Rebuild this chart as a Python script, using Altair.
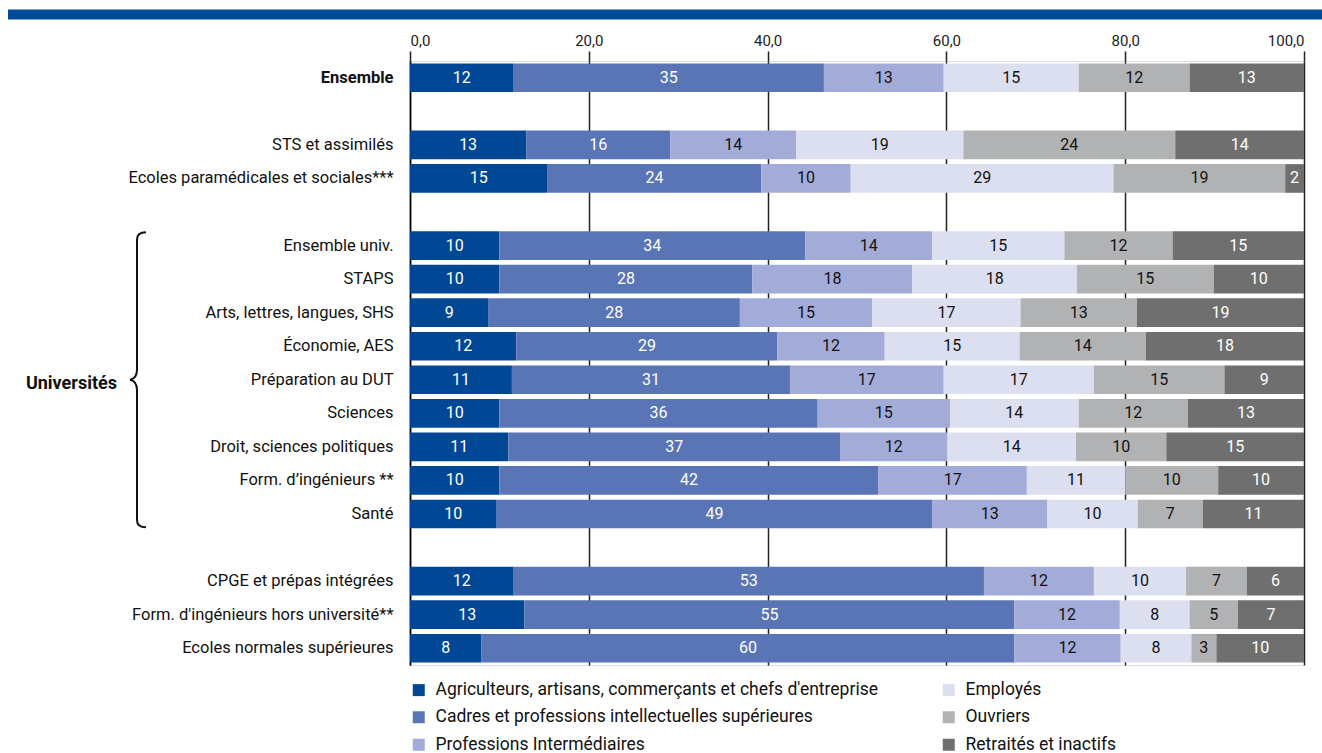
import altair as alt
import pandas as pd

FONT = "Roboto, Liberation Sans, sans-serif"

rows = ["Ensemble", " ", "STS et assimilés", "Ecoles paramédicales et sociales***", "  ",
        "Ensemble univ.", "STAPS ", "Arts, lettres, langues, SHS", "Économie, AES",
        "Préparation au DUT", "Sciences", "Droit, sciences politiques", "Form. d’ingénieurs **",
        "Santé", "   ", "CPGE et prépas intégrées", "Form. d'ingénieurs hors université**",
        "Ecoles normales supérieures"]

data_rows = ["Ensemble", "STS et assimilés", "Ecoles paramédicales et sociales***",
             "Ensemble univ.", "STAPS ", "Arts, lettres, langues, SHS", "Économie, AES",
             "Préparation au DUT", "Sciences", "Droit, sciences politiques", "Form. d’ingénieurs **",
             "Santé", "CPGE et prépas intégrées", "Form. d'ingénieurs hors université**",
             "Ecoles normales supérieures"]

series = ["Agriculteurs, artisans, commerçants et chefs d'entreprise",
          "Cadres et professions intellectuelles supérieures",
          "Professions Intermédiaires",
          "Employés", "Ouvriers", "Retraités et inactifs"]
colors = ["#004896", "#5a75b6", "#a3acd8", "#dcdff0", "#b1b2b4", "#6f6f6f"]
text_colors = ["#ffffff", "#ffffff", "#111111", "#111111", "#111111", "#ffffff"]

agriculteurs = [11.6, 13.0, 15.4, 10.0, 10.0, 8.8, 11.9, 11.4, 10.0, 11.0, 10.0, 9.7, 11.6, 12.8, 8.0]
cadres       = [34.7, 16.1, 23.9, 34.2, 28.3, 28.1, 29.2, 31.1, 35.6, 37.1, 42.4, 48.7, 52.6, 54.8, 59.6]
prof_inter   = [13.4, 14.1, 10.0, 14.2, 17.9, 14.8, 12.0, 17.2, 14.8, 12.0, 16.6, 12.9, 12.3, 11.8, 11.9]
employes     = [15.1, 18.7, 29.4, 14.8, 18.4, 16.6, 15.1, 16.8, 14.4, 14.4, 11.0, 10.1, 10.3, 7.8, 7.9]
ouvriers     = [12.4, 23.7, 19.2, 12.1, 15.3, 13.0, 14.1, 14.6, 12.2, 10.1, 10.4, 7.3, 6.8, 5.4, 2.8]
retraites    = [12.8, 14.4, 2.1, 14.7, 10.1, 18.7, 17.7, 8.9, 13.0, 15.4, 9.6, 11.3, 6.4, 7.4, 9.8]

x_ticks = [0, 20, 40, 60, 80, 100]

all_series = [agriculteurs, cadres, prof_inter, employes, ouvriers, retraites]
recs = []
for i, cat in enumerate(data_rows):
    start = 0.0
    for j, s in enumerate(series):
        v = all_series[j][i]
        recs.append({"cat": cat, "serie": s, "k": j, "value": v,
                     "start": start, "end": start + v, "mid": start + v / 2,
                     "label": str(int(round(v))), "tcol": text_colors[j]})
        start += v
df = pd.DataFrame(recs)

yscale = alt.Scale(domain=rows, paddingInner=0.146, paddingOuter=0.073)

bars = alt.Chart(df).mark_bar().encode(
    y=alt.Y("cat:N", sort=rows, scale=yscale,
            axis=alt.Axis(title=None, ticks=False, domain=True, domainColor="#000000",
                          domainWidth=1.5, labelFontSize=16.5, labelPadding=17, labelLimit=500,
                          labelColor="#111111", labelFont=FONT,
                          labelFontWeight={"condition": {"test": "datum.value === 'Ensemble'",
                                                         "value": "bold"},
                                           "value": "normal"})),
    x=alt.X("start:Q", scale=alt.Scale(domain=[0, 100], nice=False),
            axis=alt.Axis(orient="top", values=x_ticks, title=None, domain=False,
                          labelExpr="replace(format(datum.value, '.1f'), '.', ',')",
                          grid=True, gridColor="#222222", gridWidth=1.5, gridOpacity=1,
                          tickSize=10, tickColor="#222222", tickWidth=1.5,
                          labelFontSize=15, labelPadding=3, labelColor="#222222",
                          labelFont=FONT)),
    x2="end:Q",
    color=alt.Color("serie:N", scale=alt.Scale(domain=series, range=colors),
                    legend=alt.Legend(title=None, orient="none", legendX=0, legendY=620,
                                      direction="vertical", columns=2, columnPadding=62,
                                      rowPadding=8.5, symbolType="square", symbolSize=144,
                                      symbolStrokeWidth=0, labelFontSize=17.5, labelOffset=8,
                                      labelLimit=700, padding=0, labelColor="#111111",
                                      labelFont=FONT)),
    order=alt.Order("k:Q"),
)

texts = alt.Chart(df).mark_text(fontSize=16, font=FONT, baseline="middle").encode(
    y=alt.Y("cat:N", sort=rows, scale=yscale),
    x=alt.X("mid:Q"),
    text="label:N",
    color=alt.Color("tcol:N", scale=None),
)

grp = pd.DataFrame({"cat": ["Préparation au DUT"], "txt": ["Universités"]})

BRACE = ("M0.061,-1 Q0,-1 0,-0.95 L0,-0.07 Q0,-0.01 -0.047,0 "
         "Q0,0.01 0,0.07 L0,0.95 Q0,1 0.061,1")

brace = alt.Chart(grp).mark_point(shape=BRACE, size=87025, filled=False, color="#111111",
                                  strokeWidth=2, opacity=1).encode(
    y=alt.Y("cat:N", sort=rows, scale=yscale),
    x=alt.value(-273),
)

grp_text = alt.Chart(grp).mark_text(align="right", baseline="middle", fontWeight="bold",
                                    fontSize=18, font=FONT, color="#111111", dy=4).encode(
    y=alt.Y("cat:N", sort=rows, scale=yscale),
    x=alt.value(-293),
    text="txt:N",
)

band = alt.Chart(grp).mark_rect(color="#004a98").encode(
    x=alt.value(-402), x2=alt.value(912), y=alt.value(-51.5), y2=alt.value(-41.5)
)

chart = alt.layer(band, bars, texts, brace, grp_text).properties(
    width=894, height=604,
    padding={"left": 8, "top": 9, "right": 0, "bottom": 0},
).configure_view(stroke=None).configure(font=FONT)

chart.save("out.html", embed_options={"renderer": "svg", "actions": False})
